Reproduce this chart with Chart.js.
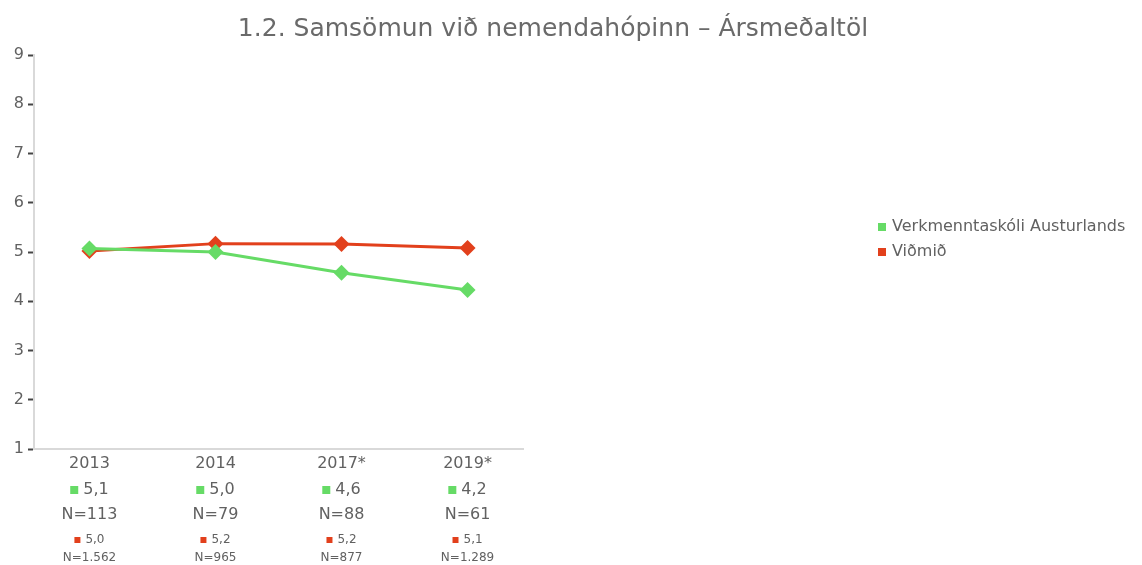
<!DOCTYPE html>
<html>
<head>
<meta charset="utf-8">
<script src="https://cdn.jsdelivr.net/npm/chart.js@4"></script>
<style>
  html, body { margin: 0; padding: 0; background: #fff; }
  #wrap { width: 1142px; height: 565px; position: relative; }
</style>
</head>
<body>
<div id="wrap"><canvas id="miGrafico"></canvas></div>
<script>
const titulo = 'Samsömun við nemendahópinn – Ársmeðaltöl';
const etiquetas = ['2013', '2014', '2017*', '2019*'];
const serieSkoli = 'Verkmenntaskóli Austurlands';
const serieVidmid = 'Viðmið';
const valoresSkoli = [5.07, 5.0, 4.58, 4.23];
const valoresVidmid = [5.02, 5.17, 5.16, 5.08];
const nSkoli = ['N=113', 'N=79', 'N=88', 'N=61'];
const nVidmid = ['N=1.562', 'N=965', 'N=877', 'N=1.289'];
const ticksY = [1, 2, 3, 4, 5, 6, 7, 8, 9];

const verde = '#66db66';
const rojo = '#e2401c';
const gris = '#616161';
const fuente = '"DejaVu Sans", sans-serif';

function formato(v) {
    return v.toFixed(1).replace('.', ',');
}

// textos de titulo, leyenda y etiquetas bajo el eje x
const textos = {
    id: 'textos',
    afterDraw(chart) {
        const ctx = chart.ctx;
        const x = chart.scales.x;
        ctx.save();
        ctx.fillStyle = '#6a6a6a';
        ctx.textBaseline = 'middle';
        ctx.textAlign = 'center';
        ctx.font = '25px ' + fuente;
        ctx.fillText('1.2. ' + titulo, 553, 29);

        etiquetas.forEach((et, i) => {
            const cx = x.getPixelForValue(i);
            ctx.textAlign = 'center';
            ctx.fillStyle = gris;
            ctx.font = '16px ' + fuente;
            ctx.fillText(et, cx, 464);
            ctx.fillText(nSkoli[i], cx, 515);

            // valor del colegio con cuadrado verde
            const t1 = formato(valoresSkoli[i]);
            const w1 = ctx.measureText(t1).width;
            const total1 = 8 + 5 + w1;
            const x1 = cx - total1 / 2;
            ctx.fillStyle = verde;
            ctx.fillRect(x1, 486, 8, 8);
            ctx.fillStyle = gris;
            ctx.textAlign = 'left';
            ctx.fillText(t1, x1 + 13, 490);

            // valor de referencia con cuadrado rojo
            ctx.font = '12px ' + fuente;
            const t2 = formato(valoresVidmid[i]);
            const w2 = ctx.measureText(t2).width;
            const total2 = 6 + 5 + w2;
            const x2 = cx - total2 / 2;
            ctx.fillStyle = rojo;
            ctx.fillRect(x2, 537, 6, 6);
            ctx.fillStyle = gris;
            ctx.fillText(t2, x2 + 11, 540);
            ctx.textAlign = 'center';
            ctx.fillText(nVidmid[i], cx, 558);
        });

        // leyenda
        ctx.textAlign = 'left';
        ctx.font = '16px ' + fuente;
        [[serieSkoli, verde, 227], [serieVidmid, rojo, 252]].forEach(([txt, col, y]) => {
            ctx.fillStyle = col;
            ctx.fillRect(878, y - 4, 8, 8);
            ctx.fillStyle = gris;
            ctx.fillText(txt, 892, y);
        });
        ctx.restore();
    }
};

const ctx = document.getElementById('miGrafico').getContext('2d');

new Chart(ctx, {
    type: 'line',
    data: {
        datasets: [
            {
                label: serieSkoli,
                data: valoresSkoli.map((v, i) => ({ x: i, y: v })),
                borderColor: verde,
                backgroundColor: verde,
                borderWidth: 3,
                pointStyle: 'rectRot',
                pointRadius: 8,
                pointHoverRadius: 8,
                pointBorderWidth: 0
            },
            {
                label: serieVidmid,
                data: valoresVidmid.map((v, i) => ({ x: i, y: v })),
                borderColor: rojo,
                backgroundColor: rojo,
                borderWidth: 3,
                pointStyle: 'rectRot',
                pointRadius: 8,
                pointHoverRadius: 8,
                pointBorderWidth: 0
            }
        ]
    },
    options: {
        responsive: true,
        maintainAspectRatio: false,
        animation: false,
        layout: { padding: { left: 0, right: 619, top: 55, bottom: 116 } },
        plugins: {
            legend: { display: false },
            title: { display: false },
            tooltip: { enabled: false }
        },
        scales: {
            x: {
                type: 'linear',
                min: -0.44,
                max: 3.44,
                ticks: { display: false },
                grid: { display: false },
                border: { display: true, color: '#d9d9d9', width: 2 },
                afterFit: s => { s.height = 0; }
            },
            y: {
                min: 1,
                max: 9,
                afterBuildTicks: s => { s.ticks = ticksY.map(v => ({ value: v })); },
                ticks: {
                    color: gris,
                    font: { family: fuente, size: 16 },
                    padding: 4
                },
                grid: {
                    display: true,
                    drawOnChartArea: false,
                    tickLength: 6,
                    tickColor: '#444',
                    tickWidth: 2
                },
                border: { display: true, color: '#d9d9d9', width: 2 },
                afterFit: s => { s.width = 34; }
            }
        }
    },
    plugins: [textos]
});
</script>
</body>
</html>
